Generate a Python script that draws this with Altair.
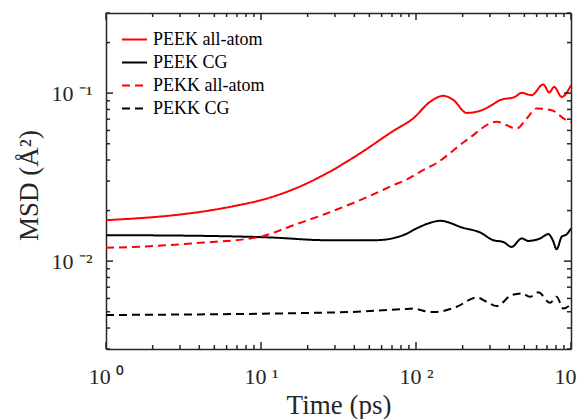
import altair as alt
import pandas as pd

series_names = ["PEEK all-atom", "PEEK CG", "PEKK all-atom", "PEKK CG"]
series_colors = ["#ff0000", "#000000", "#ff0000", "#000000"]
series_dashes = [[1, 0], [1, 0], [8, 5], [8, 5]]

peek_aa_t = [1, 1.5, 2.46, 4.04, 6.63, 11.4, 16.2, 26.5, 43.5, 71.4, 96, 123, 150, 175, 212, 259, 300, 348, 435, 481, 557, 662, 725, 778, 871, 1000]
peek_aa_v = [0.01754, 0.01792, 0.01858, 0.01963, 0.02123, 0.02388, 0.0268, 0.0333, 0.0438, 0.0596, 0.0708, 0.0887, 0.0964, 0.0908, 0.0763, 0.0785, 0.0837, 0.0908, 0.0950, 0.1004, 0.0973, 0.1127, 0.101, 0.109, 0.095, 0.1116]

peek_cg_t = [1, 4.04, 11.4, 26.5, 55, 82.8, 101, 123, 143, 202, 259, 315, 366, 414, 481, 531, 631, 714, 763, 808, 871, 938, 1000]
peek_cg_v = [0.01428, 0.01415, 0.01384, 0.01333, 0.01333, 0.01428, 0.01567, 0.0169, 0.01738, 0.01578, 0.01482, 0.01333, 0.0130, 0.01216, 0.01365, 0.0132, 0.01365, 0.01449, 0.01333, 0.01178, 0.01397, 0.01445, 0.01567]

pekk_aa_t = [1, 1.92, 4.04, 9.83, 16.2, 26.5, 43.5, 71.4, 87, 114, 129, 212, 331, 446, 518, 601, 750, 915, 1000]
pekk_aa_v = [0.0120, 0.01228, 0.01285, 0.01396, 0.01637, 0.01923, 0.02306, 0.0283, 0.0306, 0.0353, 0.0373, 0.0525, 0.0675, 0.0616, 0.0707, 0.0811, 0.0792, 0.0697, 0.067]

pekk_cg_t = [1, 32.3, 83, 96, 123, 136, 183, 246, 286, 331, 414, 481, 544, 615, 732, 808, 892, 1000]
pekk_cg_v = [0.00478, 0.00496, 0.00518, 0.00522, 0.00499, 0.00499, 0.00535, 0.00608, 0.00573, 0.0054, 0.00628, 0.00643, 0.00614, 0.00652, 0.00565, 0.00614, 0.00522, 0.00555]

x_major = [1, 10, 100, 1000]
x_minor = [2, 3, 4, 5, 6, 7, 8, 9, 20, 30, 40, 50, 60, 70, 80, 90,
           200, 300, 400, 500, 600, 700, 800, 900]
y_major = [0.01, 0.1]
y_minor = [0.003, 0.004, 0.005, 0.006, 0.007, 0.008, 0.009,
           0.02, 0.03, 0.04, 0.05, 0.06, 0.07, 0.08, 0.09, 0.2, 0.3]

rows = []
for name, ts, vs in [(series_names[0], peek_aa_t, peek_aa_v),
                     (series_names[1], peek_cg_t, peek_cg_v),
                     (series_names[2], pekk_aa_t, pekk_aa_v),
                     (series_names[3], pekk_cg_t, pekk_cg_v)]:
    for t, v in zip(ts, vs):
        rows.append({"series": name, "t": t, "msd": v})
df = pd.DataFrame(rows)

FONT = "Liberation Serif"
AX = "#262626"
W, H = 465, 336

xscale = alt.Scale(type="log", domain=[1, 1000], nice=False)
yscale = alt.Scale(type="log", domain=[0.003, 0.3], nice=False)

x_label_expr = ("datum.value == 1 ? '10 \u2070' : datum.value == 10 ? '10 \u00b9' : "
                "datum.value == 100 ? '10 \u00b2' : datum.value == 1000 ? '10 \u00b3' : ''")
y_label_expr = ("abs(datum.value - 0.1) < 1e-9 ? '10 \u207b\u00b9' : "
                "abs(datum.value - 0.01) < 1e-9 ? '10 \u207b\u00b2' : ''")

x_axis_main = alt.Axis(values=x_major, labelExpr=x_label_expr, title="Time (ps)",
                       ticks=False, grid=False, domainColor=AX, domainWidth=1.5,
                       labelFont=FONT, labelFontSize=22, labelColor="#262626",
                       labelPadding=17, labelFlush=False, labelOverlap=False,
                       titleFont=FONT, titleFontSize=27, titleFontWeight="normal",
                       titleColor="#262626", titleBaseline="alphabetic", titleY=64)
y_axis_main = alt.Axis(values=y_major, labelExpr=y_label_expr, title="MSD (\u00c5\u00b2)",
                       ticks=False, grid=False, domainColor=AX, domainWidth=1.5,
                       labelFont=FONT, labelFontSize=22, labelColor="#262626",
                       labelPadding=14, labelFlush=False, labelOverlap=False,
                       titleFont=FONT, titleFontSize=27, titleFontWeight="normal",
                       titleColor="#262626", titleBaseline="middle", titleX=-77, titleY=172,
                       titleAngle=270, titleAlign="center")
x_axis_top = alt.Axis(orient="top", labels=False, ticks=False, title=None, grid=False,
                      domainColor=AX, domainWidth=1.5)
y_axis_right = alt.Axis(orient="right", labels=False, ticks=False, title=None, grid=False,
                        domainColor=AX, domainWidth=1.5)

legend = alt.Legend(title=None, orient="none", legendX=15, legendY=13,
                    symbolType="stroke", symbolSize=625, symbolStrokeWidth=2,
                    labelFont=FONT, labelFontSize=18, labelColor="#000000",
                    labelOffset=5, padding=0, rowPadding=0)

lines = alt.Chart(df).mark_line(strokeWidth=2, interpolate="monotone").encode(
    x=alt.X("t:Q", scale=xscale, axis=x_axis_main),
    y=alt.Y("msd:Q", scale=yscale, axis=y_axis_main),
    color=alt.Color("series:N", scale=alt.Scale(domain=series_names, range=series_colors),
                    sort=series_names, legend=legend),
    strokeDash=alt.StrokeDash("series:N", scale=alt.Scale(domain=series_names, range=series_dashes),
                              sort=series_names, legend=legend),
    detail="series:N",
)

frame = alt.Chart(df).mark_line(opacity=0).encode(
    x=alt.X("t:Q", scale=xscale, axis=x_axis_top),
    y=alt.Y("msd:Q", scale=yscale, axis=y_axis_right),
    detail="series:N",
)


def x_ticks(vals, size):
    base = alt.Chart(pd.DataFrame({"v": vals})).mark_tick(
        color=AX, opacity=1, orient="vertical", size=size, thickness=1.5)
    bottom = base.encode(x=alt.X("v:Q", scale=xscale, axis=None),
                         y=alt.value(H - size / 2))
    top = base.encode(x=alt.X("v:Q", scale=xscale, axis=None),
                      y=alt.value(size / 2))
    return [bottom, top]


def y_ticks(vals, size):
    base = alt.Chart(pd.DataFrame({"v": vals})).mark_tick(
        color=AX, opacity=1, orient="horizontal", size=size, thickness=1.5)
    left = base.encode(y=alt.Y("v:Q", scale=yscale, axis=None),
                       x=alt.value(size / 2))
    right = base.encode(y=alt.Y("v:Q", scale=yscale, axis=None),
                        x=alt.value(W - size / 2))
    return [left, right]


tick_layers = (x_ticks(x_major, 7) + x_ticks(x_minor, 4)
               + y_ticks(y_major, 7) + y_ticks(y_minor, 4))

chart = alt.layer(lines, frame, *tick_layers).resolve_axis(
    x="independent", y="independent").properties(
    width=W, height=H,
    autosize=alt.AutoSizeParams(type="none"),
    padding={"left": 98, "top": 5, "right": 8, "bottom": 70},
).configure_view(stroke=None).configure(background="white")

chart.save("out.html", embed_options={"renderer": "svg", "actions": False})
